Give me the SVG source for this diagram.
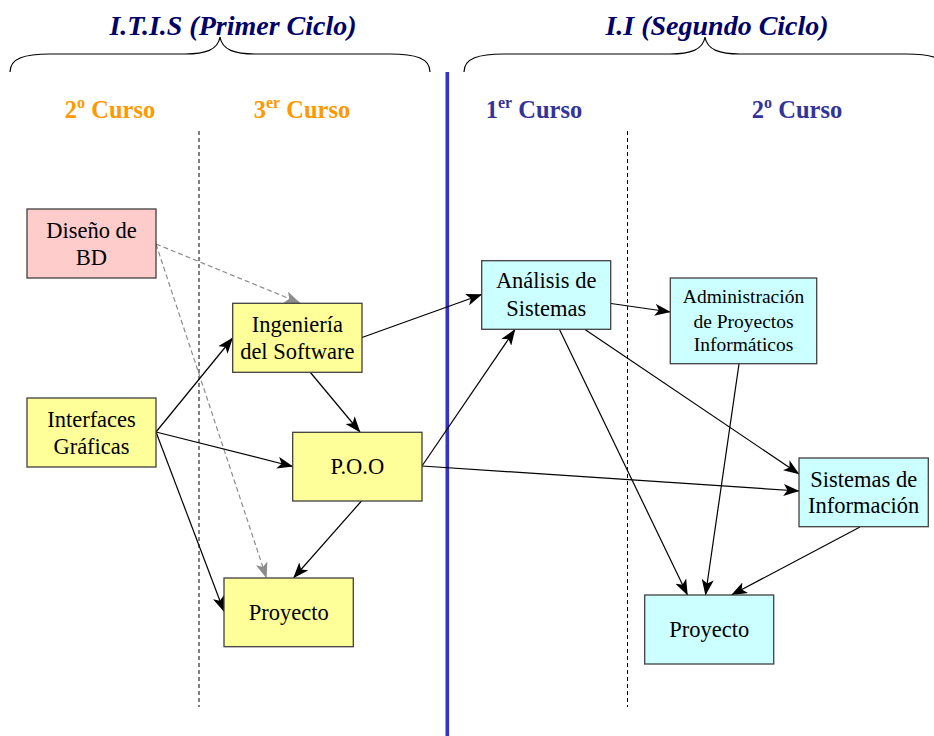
<svg xmlns="http://www.w3.org/2000/svg" width="934" height="736" viewBox="0 0 934 736">
<style>
.box{stroke:#404040;stroke-width:1.3}
.y{fill:#FFFF99}.p{fill:#FFCCCC}.c{fill:#CCFFFF}
.t{font-family:"Liberation Serif","Times New Roman",serif;font-size:22.5px;fill:#000;text-anchor:middle}
.ts{font-size:19.5px}
.title{font-family:"Liberation Serif","Times New Roman",serif;font-weight:bold;font-style:italic;font-size:28px;fill:#000066;text-anchor:middle}
.course{font-family:"Liberation Serif","Times New Roman",serif;font-weight:bold;font-size:24.5px;text-anchor:middle}
.or{fill:#FF9900}.bl{fill:#333399}
.e{stroke:#000;stroke-width:1.2;fill:none;marker-end:url(#ah)}
.g{stroke:#8c8c8c;stroke-width:1.2;fill:none;stroke-dasharray:5 3;marker-end:url(#ahg)}
.div{stroke:#000;stroke-width:1;stroke-dasharray:4 3;fill:none}
.brace{stroke:#000;stroke-width:1.2;fill:none}
</style>
<defs>
<marker id="ah" viewBox="0 0 16 12" markerWidth="16" markerHeight="12" refX="15.5" refY="6" orient="auto" markerUnits="userSpaceOnUse"><path d="M0,0 L16,6 L0,12 L4,6 z" fill="#000"/></marker>
<marker id="ahg" viewBox="0 0 16 12" markerWidth="16" markerHeight="12" refX="15.5" refY="6" orient="auto" markerUnits="userSpaceOnUse"><path d="M0,0 L16,6 L0,12 L4,6 z" fill="#8c8c8c"/></marker>
</defs>
<rect width="934" height="736" fill="#fff"/>
<g id="headers">
<text class="title" x="233" y="35">I.T.I.S (Primer Ciclo)</text>
<text class="title" x="717" y="35">I.I (Segundo Ciclo)</text>
<path class="brace" d="M10,72 C10,58 25,54 50,54 L185,54 C205,54 218,50 220,37 C222,50 235,54 255,54 L390,54 C415,54 430,58 430,72"/>
<path class="brace" d="M464,72 C464,58 479,54 504,54 L670,54 C690,54 703,50 705,37 C707,50 720,54 740,54 L906,54 C931,54 946,58 946,72"/>
<text class="course or" x="110" y="118">2<tspan font-size="16" dy="-10">o</tspan><tspan dy="10"> Curso</tspan></text>
<text class="course or" x="302" y="118">3<tspan font-size="16" dy="-10">er</tspan><tspan dy="10"> Curso</tspan></text>
<text class="course bl" x="534" y="118">1<tspan font-size="16" dy="-10">er</tspan><tspan dy="10"> Curso</tspan></text>
<text class="course bl" x="797" y="118">2<tspan font-size="16" dy="-10">o</tspan><tspan dy="10"> Curso</tspan></text>
<line class="div" x1="199" y1="131" x2="199" y2="707"/>
<line class="div" x1="627.5" y1="131" x2="627.5" y2="707"/>
<line x1="447.3" y1="72" x2="447.3" y2="736" stroke="#3333CC" stroke-width="3.6"/>
</g>
<g id="connectors">
<line class="g" x1="156" y1="244" x2="300" y2="303"/>
<line class="g" x1="156" y1="244" x2="266.5" y2="578"/>
<line class="e" x1="156" y1="432" x2="232.7" y2="338"/>
<line class="e" x1="156" y1="432" x2="292.7" y2="466.5"/>
<line class="e" x1="156" y1="432" x2="224" y2="611.5"/>
<line class="e" x1="310" y1="372" x2="360" y2="432"/>
<line class="e" x1="362" y1="337.5" x2="481.7" y2="294.5"/>
<line class="e" x1="422" y1="466" x2="515" y2="329.5"/>
<line class="e" x1="422" y1="466" x2="799" y2="491"/>
<line class="e" x1="361.5" y1="501" x2="293.5" y2="578"/>
<line class="e" x1="611" y1="303.5" x2="670.3" y2="312"/>
<line class="e" x1="585" y1="329.5" x2="799" y2="474"/>
<line class="e" x1="559.5" y1="329.5" x2="687.5" y2="595"/>
<line class="e" x1="739" y1="364" x2="705.5" y2="595"/>
<line class="e" x1="860" y1="527" x2="731.5" y2="595"/>
</g>
<g id="diseno">
<rect class="box p" x="27" y="209" width="129" height="69"/>
<text class="t" x="91.5" y="238">Diseño de</text>
<text class="t" x="91.5" y="265">BD</text>
</g>
<g id="interfaces">
<rect class="box y" x="27" y="398" width="129" height="69"/>
<text class="t" x="91.5" y="426.5">Interfaces</text>
<text class="t" x="91.5" y="453.5">Gráficas</text>
</g>
<g id="ingenieria">
<rect class="box y" x="232.7" y="303.3" width="129.3" height="69"/>
<text class="t" x="297.3" y="331.7">Ingeniería</text>
<text class="t" x="297.3" y="359.3">del Software</text>
</g>
<g id="poo">
<rect class="box y" x="292.7" y="432.3" width="129.3" height="68.7"/>
<text class="t" x="357.3" y="474.3">P.O.O</text>
</g>
<g id="proyecto1">
<rect class="box y" x="224" y="578" width="129.3" height="68.7"/>
<text class="t" x="288.7" y="620">Proyecto</text>
</g>
<g id="analisis">
<rect class="box c" x="481.7" y="260.7" width="129" height="68.6"/>
<text class="t" x="546.2" y="288.3">Análisis de</text>
<text class="t" x="546.2" y="316">Sistemas</text>
</g>
<g id="administracion">
<rect class="box c" x="670.3" y="278" width="146.4" height="85.7"/>
<text class="t ts" x="743.5" y="303.3">Administración</text>
<text class="t ts" x="743.5" y="327.7">de Proyectos</text>
<text class="t ts" x="743.5" y="351">Informáticos</text>
</g>
<g id="sistemas">
<rect class="box c" x="799" y="458" width="129.3" height="68.7"/>
<text class="t" x="863.7" y="486.7">Sistemas de</text>
<text class="t" x="863.7" y="513.3">Información</text>
</g>
<g id="proyecto2">
<rect class="box c" x="644.7" y="595" width="129" height="69"/>
<text class="t" x="709.2" y="636.7">Proyecto</text>
</g>
</svg>
